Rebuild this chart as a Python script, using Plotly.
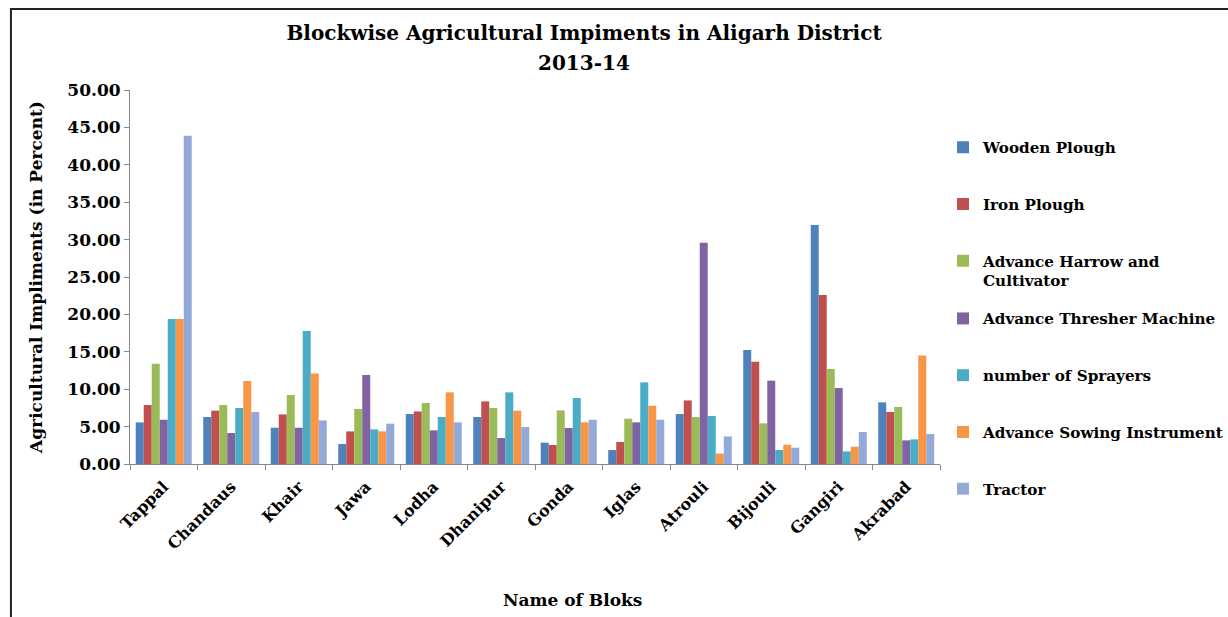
import plotly.graph_objects as go

# Blocks of Aligarh district
blocks = ["Tappal", "Chandaus", "Khair", "Jawa", "Lodha", "Dhanipur", "Gonda",
          "Iglas", "Atrouli", "Bijouli", "Gangiri", "Akrabad"]

# Share of each implement per block (percent)
wooden_plough = [5.56, 6.28, 4.85, 2.67, 6.68, 6.28, 2.85, 1.87, 6.68, 15.24, 31.95, 8.24]
iron_plough = [7.89, 7.13, 6.63, 4.36, 7.03, 8.37, 2.54, 2.94, 8.50, 13.68, 22.59, 6.95]
harrow_cultivator = [13.41, 7.89, 9.22, 7.35, 8.16, 7.49, 7.17, 6.06, 6.28, 5.43, 12.70, 7.62]
thresher_machine = [5.92, 4.14, 4.85, 11.90, 4.50, 3.47, 4.81, 5.57, 29.59, 11.14, 10.16, 3.16]
sprayers = [19.38, 7.49, 17.78, 4.63, 6.28, 9.58, 8.82, 10.91, 6.42, 1.87, 1.69, 3.29]
sowing_instrument = [19.38, 11.10, 12.11, 4.36, 9.58, 7.13, 5.57, 7.79, 1.38, 2.58, 2.31, 14.52]
tractor = [43.90, 6.95, 5.83, 5.39, 5.57, 4.94, 5.92, 5.92, 3.69, 2.18, 4.27, 4.01]

series_names = ["Wooden Plough", "Iron Plough", "Advance Harrow and<br>Cultivator",
                "Advance Thresher Machine", "number of Sprayers",
                "Advance Sowing Instrument", "Tractor"]
series_values = [wooden_plough, iron_plough, harrow_cultivator, thresher_machine,
                 sprayers, sowing_instrument, tractor]
series_colors = ["#4F81BD", "#C0504D", "#9BBB59", "#8064A2", "#4BACC6", "#F79646", "#93AAD8"]

y_ticks = [0, 5, 10, 15, 20, 25, 30, 35, 40, 45, 50]

SERIF = "DejaVu Serif"
BLACK = "#000000"

fig = go.Figure()
for i, (name, vals, col) in enumerate(zip(series_names, series_values, series_colors)):
    fig.add_trace(go.Bar(
        x=blocks, y=vals, name=name, marker_color=col,
        marker_line_width=0, legendgroup=f"g{i}",
        legend="legend" if i < 3 else "legend2",
    ))

legend_common = dict(
    font=dict(family=SERIF, size=15.2, color=BLACK, weight="bold"),
    tracegroupgap=34, itemwidth=30, valign="top",
    bgcolor="rgba(0,0,0,0)", xanchor="left", yanchor="top",
)

fig.update_layout(
    width=1228, height=617,
    margin=dict(l=130, r=288, t=90, b=153, autoexpand=False),
    paper_bgcolor="white", plot_bgcolor="white",
    barmode="group", bargap=0.17, bargroupgap=0,
    title=dict(
        text="Blockwise Agricultural Impiments in Aligarh District",
        x=0.4756, xanchor="center", xref="container",
        y=1 - 33 / 617, yanchor="middle", yref="container",
        font=dict(family=SERIF, size=20, color=BLACK, weight="bold"),
    ),
    xaxis=dict(
        tickangle=-45, tickson="boundaries", ticks="outside", ticklen=5,
        tickcolor="#888888", showline=True, linecolor="#888888", linewidth=1,
        ticklabelstandoff=6,
        tickfont=dict(family=SERIF, size=16, color=BLACK, weight="bold"),
        showgrid=False,
    ),
    yaxis=dict(
        range=[0, 50], tickvals=y_ticks,
        ticktext=[f"{v:.2f}" for v in y_ticks],
        ticks="outside", ticklen=5, tickcolor="#888888",
        showline=True, linecolor="#888888", linewidth=1,
        tickfont=dict(family=SERIF, size=17, color=BLACK, weight="bold"),
        title=dict(text="Agricultural Impliments (in Percent)", standoff=20,
                   font=dict(family=SERIF, size=17, color=BLACK, weight="bold")),
        showgrid=False, zeroline=False,
    ),
    legend=dict(x=1.0037, y=0.891, **legend_common),
    legend2=dict(x=1.0037, y=0.433, **legend_common),
    annotations=[
        # second title line
        dict(text="2013-14", xref="paper", yref="paper",
             x=(584 - 130) / 810, y=(464 - 63) / 374,
             xanchor="center", yanchor="middle", showarrow=False,
             font=dict(family=SERIF, size=20, color=BLACK, weight="bold")),
        # x axis title
        dict(text="Name of Bloks", xref="paper", yref="paper",
             x=(572 - 130) / 810, y=(464 - 600) / 374,
             xanchor="center", yanchor="middle", showarrow=False,
             font=dict(family=SERIF, size=17, color=BLACK, weight="bold")),
    ],
    shapes=[dict(type="rect", xref="paper", yref="paper",
                 x0=-0.147, x1=1.5, y0=-0.5, y1=(464 - 9) / 374,
                 line=dict(color="#222222", width=2))],
)

fig.write_html("out.html")
